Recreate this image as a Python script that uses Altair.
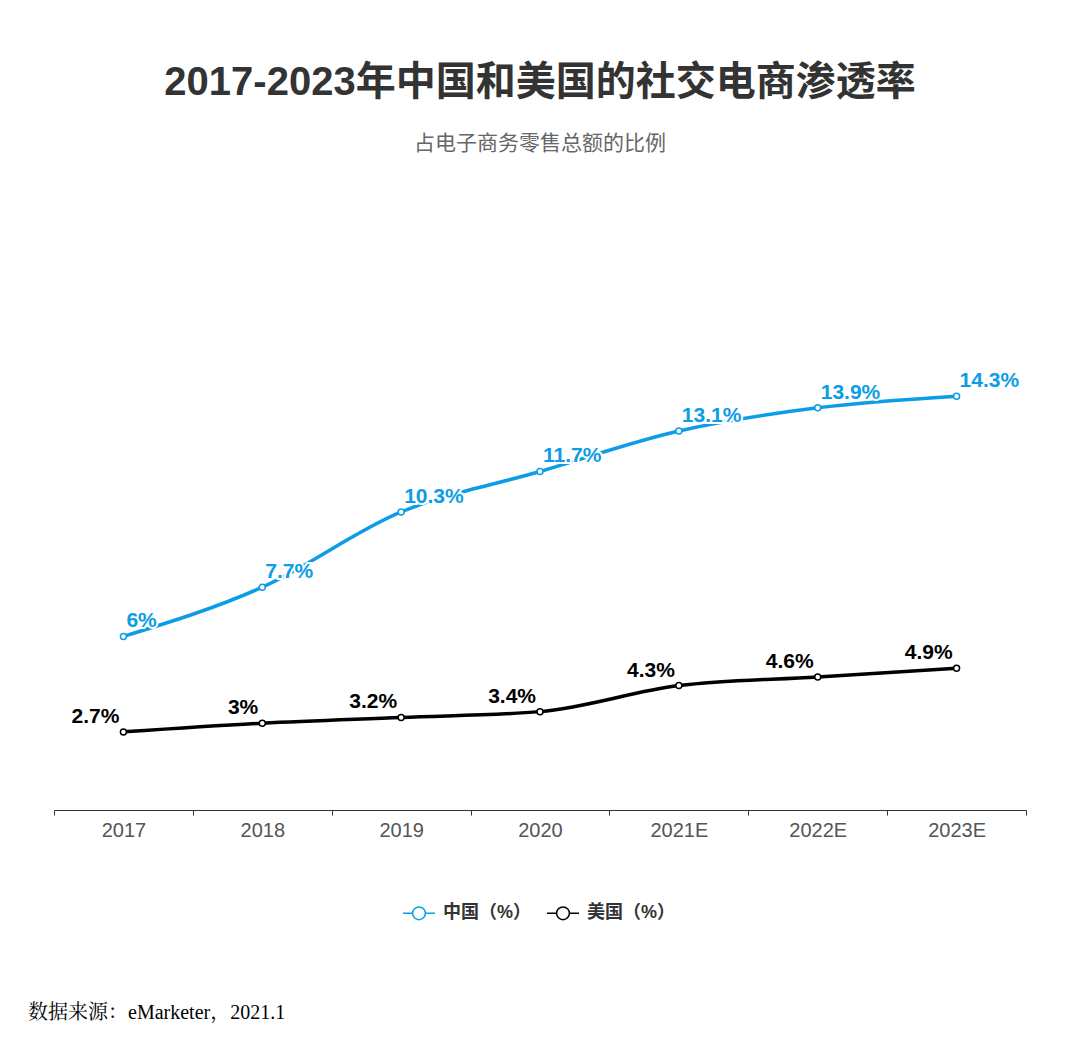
import altair as alt
import pandas as pd

years = ["2017", "2018", "2019", "2020", "2021E", "2022E", "2023E"]
china = [6, 7.7, 10.3, 11.7, 13.1, 13.9, 14.3]
usa = [2.7, 3, 3.2, 3.4, 4.3, 4.6, 4.9]
series_names = ["中国（%）", "美国（%）"]
colors = ["#0c9de6", "#000000"]
title_text = "2017-2023年中国和美国的社交电商渗透率"
subtitle_text = "占电子商务零售总额的比例"
source_text = ["数据来源：eMarketer，2021.1"]

def fmt(v):
    s = ("%g" % v)
    return s + "%"

rows = []
for name, vals in zip(series_names, [china, usa]):
    for i, (y, v) in enumerate(zip(years, vals)):
        rows.append({"year": y, "value": v, "series": name, "label": fmt(v), "order": i})
df = pd.DataFrame(rows)

FONT = "Liberation Sans, Noto Sans CJK SC, sans-serif"

x = alt.X("year:N", sort=years,
          scale=alt.Scale(paddingInner=0, paddingOuter=0),
          axis=alt.Axis(title=None, labelAngle=0, labelFontSize=20, labelColor="#555555",
                        labelFont=FONT, domainColor="#333333", tickColor="#333333",
                        tickSize=5, tickBand="extent", labelPadding=5, grid=False))
y = alt.Y("value:Q", scale=alt.Scale(domain=[0, 15], nice=False, zero=True), axis=None)
color = alt.Color("series:N", scale=alt.Scale(domain=series_names, range=colors),
                  legend=alt.Legend(title=None, orient="none", direction="horizontal",
                                    legendX=348, legendY=520,
                                    symbolType="M-1,0L-0.4,0M0.4,0L1,0M0.4,0A0.4,0.4 0 1,1 -0.4,0A0.4,0.4 0 1,1 0.4,0",
                                    symbolSize=1024, symbolFillColor="white", symbolStrokeWidth=1.5,
                                    labelFont=FONT, labelFontSize=18, labelFontWeight="bold",
                                    labelColor="#333333", columnPadding=12, labelOffset=7,
                                    padding=0))

base = alt.Chart(df)

line = base.mark_line(interpolate="monotone", strokeWidth=3.5).encode(
    x=x, y=y, color=color, order="order:Q")

points = base.mark_point(filled=False, fill="white", size=36, strokeWidth=1.5, opacity=1).encode(
    x=x, y=y, color=alt.Color("series:N", scale=alt.Scale(domain=series_names, range=colors), legend=None))

cn = base.transform_filter(alt.datum.series == series_names[0])
us = base.transform_filter(alt.datum.series == series_names[1])

label_kw = dict(fontSize=21, fontWeight="bold", font=FONT, baseline="middle", dy=-15)

cn_halo = cn.mark_text(align="left", dx=3, stroke="white", strokeWidth=4, fill="white", **label_kw).encode(
    x=x, y=y, text="label:N")
cn_text = cn.mark_text(align="left", dx=3, color=colors[0], **label_kw).encode(
    x=x, y=y, text="label:N")
us_halo = us.mark_text(align="right", dx=-4, stroke="white", strokeWidth=4, fill="white", **label_kw).encode(
    x=x, y=y, text="label:N")
us_text = us.mark_text(align="right", dx=-4, color=colors[1], **label_kw).encode(
    x=x, y=y, text="label:N")

source = alt.Chart(pd.DataFrame({"t": source_text})).mark_text(
    align="left", baseline="middle", fontSize=20, color="#000000",
    font="Liberation Serif, Noto Serif CJK SC, Noto Sans CJK SC, serif").encode(
    text="t:N", x=alt.value(-26), y=alt.value(637))

chart = alt.layer(line, points, cn_halo, cn_text, us_halo, us_text, source).properties(
    width=972, height=434,
    padding={"left": 46, "top": 368, "right": 30, "bottom": 220},
    autosize=alt.AutoSizeParams(type="none"),
    title=alt.TitleParams(text=title_text, subtitle=subtitle_text, anchor="middle",
                          font=FONT, fontSize=40, fontWeight="bold", color="#333333",
                          subtitleFont=FONT, subtitleFontSize=21, subtitleColor="#666666",
                          subtitlePadding=30, offset=216),
).configure_view(stroke=None)

chart.save("out.html", embed_options={"renderer": "svg", "actions": False})
